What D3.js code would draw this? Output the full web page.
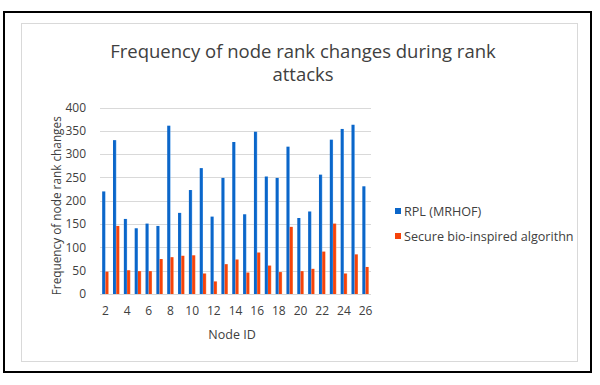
<!DOCTYPE html>
<html>
<head>
<meta charset="utf-8">
<script src="https://cdn.jsdelivr.net/npm/d3@7"></script>
<style>
  body { margin: 0; background: #fff; }
  svg text { font-family: "Open Sans", "Liberation Sans", sans-serif; fill: #404040; }
</style>
</head>
<body>
<script>
// node ids 2..26
const nodes = [2, 3, 4, 5, 6, 7, 8, 9, 10, 11, 12, 13, 14, 15, 16, 17, 18, 19, 20, 21, 22, 23, 24, 25, 26];
const rplValues = [220, 330, 161, 141, 151, 146, 361, 174, 223, 270, 166, 249, 326, 171, 348, 252, 249, 316, 163, 177, 256, 331, 354, 363, 231];
const secureValues = [48, 146, 51, 49, 49, 75, 79, 82, 83, 44, 27, 64, 74, 46, 89, 61, 47, 144, 49, 54, 91, 151, 44, 85, 58];
const yTicks = [0, 50, 100, 150, 200, 250, 300, 350, 400];
const xTickLabels = [2, 4, 6, 8, 10, 12, 14, 16, 18, 20, 22, 24, 26];
const seriesNames = ["RPL (MRHOF)", "Secure bio-inspired algorithn"];
const colors = ["#0b66c9", "#f5430b"];
const edgeColors = ["#4a97e8", "#ff8a50"];

main();

function main() {
  const width = 600;
  const height = 385;
  const plot = { left: 100, right: 371, top: 107.5, bottom: 294 };

  const svg = d3.select("body").append("svg")
    .attr("width", width)
    .attr("height", height);

  // little highlight on the right edge of each bar, like the office style
  const defs = svg.append("defs");
  colors.forEach((c, i) => {
    const g = defs.append("linearGradient").attr("id", "grad" + i)
      .attr("x1", "0%").attr("x2", "100%").attr("y1", "0%").attr("y2", "0%");
    g.append("stop").attr("offset", "0%").attr("stop-color", c);
    g.append("stop").attr("offset", "70%").attr("stop-color", c);
    g.append("stop").attr("offset", "100%").attr("stop-color", edgeColors[i]);
  });

  // frames
  svg.append("rect")
    .attr("x", 4).attr("y", 12).attr("width", 587).attr("height", 360)
    .attr("fill", "none").attr("stroke", "#000").attr("stroke-width", 2);
  svg.append("rect")
    .attr("x", 21.5).attr("y", 23.5).attr("width", 556).attr("height", 338)
    .attr("fill", "none").attr("stroke", "#d9d9d9").attr("stroke-width", 1);

  const x = d3.scaleBand()
    .domain(nodes)
    .range([plot.left, plot.right])
    .paddingInner(0.4)
    .paddingOuter(0.2);
  const xSub = d3.scaleBand()
    .domain([0, 1])
    .range([0, x.bandwidth()]);
  const y = d3.scaleLinear()
    .domain([0, 400])
    .range([plot.bottom, plot.top]);

  // grid lines
  svg.append("g")
    .selectAll("line")
    .data(yTicks)
    .join("line")
    .attr("x1", plot.left).attr("x2", plot.right)
    .attr("y1", d => Math.round(y(d)) + 0.5).attr("y2", d => Math.round(y(d)) + 0.5)
    .attr("stroke", "#d9d9d9").attr("stroke-width", 1);

  // y axis labels
  const yAxis = svg.append("g")
    .attr("transform", `translate(${plot.left},0)`)
    .call(d3.axisLeft(y).tickValues(yTicks).tickSize(0).tickPadding(14));
  yAxis.select(".domain").remove();
  yAxis.selectAll("text")
    .style("font-family", "\"Open Sans\", sans-serif")
    .style("font-size", "12px")
    .attr("fill", "#404040");

  // bars
  const series = [rplValues, secureValues];
  series.forEach((vals, si) => {
    svg.append("g")
      .selectAll("rect")
      .data(nodes.map((n, i) => ({ n, v: vals[i] })))
      .join("rect")
      .attr("x", d => x(d.n) + xSub(si))
      .attr("width", xSub.bandwidth())
      .attr("y", d => y(d.v))
      .attr("height", d => y(0) - y(d.v))
      .attr("fill", `url(#grad${si})`);
  });

  // x axis labels
  const xAxis = svg.append("g")
    .attr("transform", `translate(0,${plot.bottom})`)
    .call(d3.axisBottom(x).tickValues(xTickLabels).tickSize(0).tickPadding(12));
  xAxis.select(".domain").remove();
  xAxis.selectAll("text")
    .style("font-family", "\"Open Sans\", sans-serif")
    .style("font-size", "12px")
    .attr("fill", "#404040");

  // title
  const title = svg.append("text")
    .attr("text-anchor", "middle")
    .style("font-size", "18.5px")
    .attr("fill", "#222");
  title.append("tspan").attr("x", 303).attr("y", 58).text("Frequency of node rank changes during rank");
  title.append("tspan").attr("x", 303).attr("y", 81).text("attacks");

  // axis titles
  svg.append("text")
    .attr("text-anchor", "middle")
    .attr("transform", `translate(61,${(plot.top + plot.bottom) / 2 + 5}) rotate(-90)`)
    .style("font-size", "11.8px")
    .text("Frequency of node rank changes");
  svg.append("text")
    .attr("x", 232).attr("y", 339)
    .attr("text-anchor", "middle")
    .style("font-size", "12.5px")
    .text("Node ID");

  // legend
  const legend = svg.append("g")
    .selectAll("g")
    .data(seriesNames)
    .join("g")
    .attr("transform", (d, i) => `translate(395,${211 + i * 25})`);
  legend.append("rect")
    .attr("x", 0).attr("y", -3).attr("width", 6).attr("height", 6)
    .attr("fill", (d, i) => colors[i]);
  legend.append("text")
    .attr("x", 9).attr("y", 4.5)
    .style("font-size", "12.6px")
    .text(d => d);
}
</script>
</body>
</html>
